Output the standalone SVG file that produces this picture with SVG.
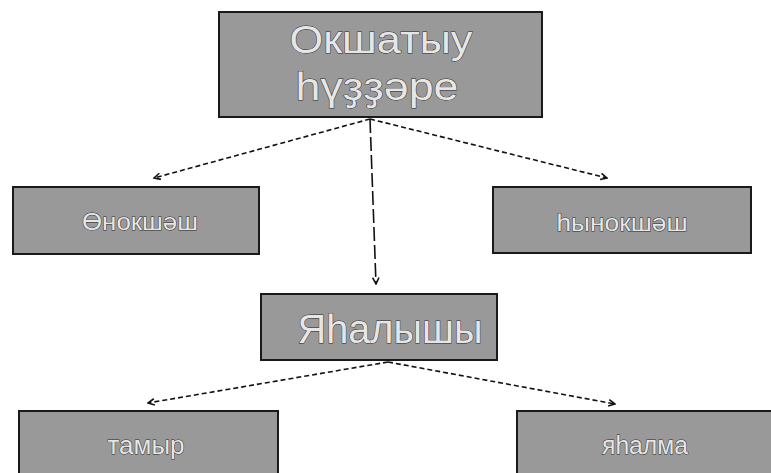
<svg xmlns="http://www.w3.org/2000/svg" width="771" height="473" viewBox="0 0 771 473">
<style>
.box{fill:#999999;stroke:#1a1a1a;stroke-width:2}
.t{font-family:"Liberation Sans","DejaVu Sans",sans-serif;fill:#e6e6e6;stroke:#2a2a2a;stroke-width:0.9;paint-order:stroke;text-anchor:middle}
.c{fill:none;stroke:#111;stroke-width:1.6;stroke-dasharray:5,3}
.v{fill:none;stroke:#111;stroke-width:1.6;stroke-dasharray:14,4}
</style>
<defs>
<marker id="ah" viewBox="0 0 10 10" refX="9" refY="5" markerWidth="8" markerHeight="8" orient="auto" markerUnits="userSpaceOnUse">
<path d="M1,1 L9,5 L1,9" fill="none" stroke="#111" stroke-width="2"/>
</marker>
</defs>
<rect width="771" height="473" fill="#ffffff"/>
<g id="connectors">
<line class="c" x1="370" y1="119" x2="154" y2="178" marker-end="url(#ah)"/>
<line class="c" x1="370" y1="119" x2="607" y2="178" marker-end="url(#ah)"/>
<line class="v" x1="370" y1="119" x2="376" y2="284" marker-end="url(#ah)"/>
<line class="c" x1="388" y1="362" x2="148" y2="403" marker-end="url(#ah)"/>
<line class="c" x1="388" y1="362" x2="615" y2="404" marker-end="url(#ah)"/>
</g>
<g id="n-top">
<rect class="box" x="219" y="12" width="323" height="105"/>
<text class="t" x="381" y="53" font-size="38" textLength="183" lengthAdjust="spacingAndGlyphs">Окшатыу</text>
<text class="t" x="377" y="100" font-size="38" textLength="163" lengthAdjust="spacingAndGlyphs">һүҙҙәре</text>
</g>
<g id="n-left">
<rect class="box" x="13" y="187" width="246" height="67"/>
<text class="t" x="140" y="230" font-size="23" textLength="116" lengthAdjust="spacingAndGlyphs">Өнокшәш</text>
</g>
<g id="n-right">
<rect class="box" x="493" y="187" width="258" height="66"/>
<text class="t" x="622" y="231" font-size="23" textLength="131" lengthAdjust="spacingAndGlyphs">һынокшәш</text>
</g>
<g id="n-mid">
<rect class="box" x="261" y="294" width="236" height="66"/>
<text class="t" x="390" y="343" font-size="40" textLength="185" lengthAdjust="spacingAndGlyphs">Яһалышы</text>
</g>
<g id="n-bl">
<rect class="box" x="19" y="411" width="259" height="70"/>
<text class="t" x="146" y="454" font-size="25" textLength="77" lengthAdjust="spacingAndGlyphs">тамыр</text>
</g>
<g id="n-br">
<rect class="box" x="517" y="411" width="262" height="70"/>
<text class="t" x="645" y="454" font-size="25" textLength="86" lengthAdjust="spacingAndGlyphs">яһалма</text>
</g>
</svg>
